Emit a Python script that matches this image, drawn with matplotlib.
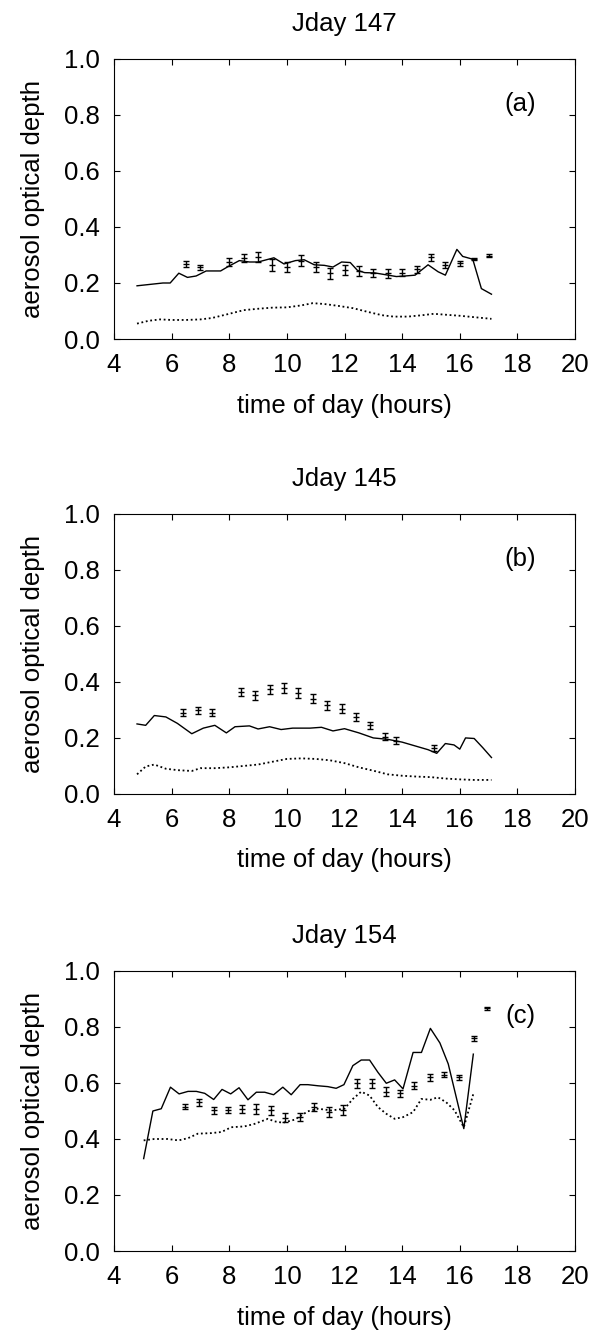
import matplotlib
matplotlib.use('Agg')
import matplotlib.pyplot as plt

plt.rcParams['font.family'] = ['Liberation Sans', 'DejaVu Sans']

# ---- panel (a): Jday 147 ----
a_line_t = [4.8, 5.25, 5.7, 5.95, 6.25, 6.55, 6.85, 7.2, 7.7, 7.95, 8.35, 8.7, 9.0, 9.55, 9.9,
            10.3, 10.6, 10.95, 11.3, 11.6, 11.9, 12.2, 12.45, 12.7, 13.05, 13.4, 13.8, 14.1,
            14.45, 14.9, 15.25, 15.5, 15.9, 16.1, 16.45, 16.75, 17.1]
a_line_v = [0.19, 0.195, 0.2, 0.2, 0.235, 0.22, 0.225, 0.243, 0.243, 0.258, 0.28, 0.275, 0.275,
            0.29, 0.268, 0.28, 0.283, 0.265, 0.263, 0.257, 0.275, 0.273, 0.245, 0.237, 0.236,
            0.23, 0.223, 0.225, 0.228, 0.265, 0.24, 0.228, 0.32, 0.295, 0.285, 0.18, 0.16]
a_dot_t = [4.8, 5.2, 5.6, 6.0, 6.5, 7.0, 7.4, 8.0, 8.5, 9.0, 9.5, 10.0, 10.5, 10.9, 11.3, 11.8,
           12.3, 12.8, 13.3, 13.7, 14.2, 14.7, 15.1, 15.6, 16.0, 16.5, 17.1]
a_dot_v = [0.055, 0.065, 0.07, 0.068, 0.068, 0.07, 0.075, 0.09, 0.103, 0.108, 0.112, 0.113,
           0.12, 0.128, 0.125, 0.118, 0.11, 0.097, 0.085, 0.08, 0.08, 0.085, 0.09, 0.086,
           0.083, 0.078, 0.072]
a_pt_t = [6.5, 7.0, 8.0, 8.5, 9.0, 9.5, 10.0, 10.5, 11.0, 11.5, 12.0, 12.5, 13.0, 13.5, 14.0,
          14.5, 15.0, 15.5, 16.0, 16.5, 17.0]
a_pt_v = [0.268, 0.256, 0.274, 0.29, 0.292, 0.264, 0.258, 0.28, 0.258, 0.234, 0.246, 0.243,
          0.236, 0.234, 0.237, 0.249, 0.292, 0.264, 0.27, 0.286, 0.297]
a_pt_e = [0.012, 0.01, 0.014, 0.015, 0.017, 0.02, 0.018, 0.02, 0.017, 0.018, 0.017, 0.017,
          0.015, 0.015, 0.013, 0.013, 0.012, 0.01, 0.009, 0.005, 0.005]

# ---- panel (b): Jday 145 ----
b_line_t = [4.8, 5.1, 5.4, 5.8, 6.2, 6.7, 7.1, 7.5, 7.9, 8.2, 8.7, 9.0, 9.4, 9.8, 10.2, 10.8,
            11.2, 11.6, 12.0, 12.5, 13.0, 13.5, 14.0, 14.5, 14.9, 15.2, 15.5, 15.8, 16.0,
            16.2, 16.5, 16.8, 17.1]
b_line_v = [0.25, 0.245, 0.28, 0.275, 0.252, 0.215, 0.235, 0.245, 0.218, 0.24, 0.243, 0.232,
            0.24, 0.23, 0.235, 0.235, 0.238, 0.225, 0.233, 0.218, 0.2, 0.195, 0.185, 0.17,
            0.158, 0.145, 0.18, 0.175, 0.16, 0.2, 0.198, 0.165, 0.13]
b_dot_t = [4.8, 5.1, 5.4, 5.8, 6.2, 6.7, 7.0, 7.5, 8.0, 8.5, 9.0, 9.5, 10.0, 10.5, 11.0, 11.5,
           12.0, 12.5, 13.0, 13.5, 14.0, 14.5, 15.0, 15.5, 16.0, 16.5, 17.1]
b_dot_v = [0.07, 0.098, 0.105, 0.09, 0.085, 0.082, 0.092, 0.092, 0.095, 0.1, 0.105, 0.115,
           0.125, 0.127, 0.125, 0.12, 0.11, 0.095, 0.083, 0.07, 0.065, 0.062, 0.06, 0.055,
           0.052, 0.05, 0.05]
b_pt_t = [6.4, 6.9, 7.4, 8.4, 8.9, 9.4, 9.9, 10.4, 10.9, 11.4, 11.9, 12.4, 12.9, 13.4, 13.8, 15.1]
b_pt_v = [0.29, 0.298, 0.29, 0.364, 0.352, 0.373, 0.379, 0.361, 0.34, 0.316, 0.305, 0.275,
          0.245, 0.205, 0.19, 0.165]
b_pt_e = [0.012, 0.012, 0.012, 0.015, 0.015, 0.015, 0.017, 0.017, 0.017, 0.017, 0.015, 0.015,
          0.013, 0.012, 0.012, 0.01]

# ---- panel (c): Jday 154 ----
c_line_t = [5.03, 5.35, 5.64, 5.96, 6.26, 6.57, 6.86, 7.15, 7.46, 7.75, 8.05, 8.34, 8.65, 8.94,
            9.23, 9.54, 9.86, 10.15, 10.46, 10.73, 11.08, 11.42, 11.71, 11.98, 12.29, 12.58,
            12.87, 13.16, 13.45, 13.74, 14.03, 14.38, 14.67, 14.98, 15.31, 15.6, 16.14, 16.47]
c_line_v = [0.33, 0.5, 0.508, 0.585, 0.561, 0.57, 0.57, 0.563, 0.541, 0.577, 0.561, 0.583,
            0.54, 0.567, 0.567, 0.558, 0.585, 0.558, 0.594, 0.594, 0.59, 0.587, 0.581, 0.594,
            0.662, 0.682, 0.682, 0.638, 0.599, 0.611, 0.579, 0.709, 0.709, 0.795, 0.743,
            0.668, 0.437, 0.703]
c_dot_t = [5.03, 5.4, 5.86, 6.24, 6.57, 6.91, 7.38, 7.73, 8.07, 8.53, 8.88, 9.34, 9.57, 9.86,
           10.27, 10.73, 11.08, 11.54, 12.0, 12.29, 12.58, 12.87, 13.16, 13.45, 13.74, 14.03,
           14.38, 14.67, 14.98, 15.24, 15.53, 15.82, 16.14, 16.47]
c_dot_v = [0.395, 0.4, 0.4, 0.395, 0.403, 0.419, 0.421, 0.425, 0.442, 0.445, 0.454, 0.472,
           0.463, 0.458, 0.469, 0.499, 0.508, 0.502, 0.508, 0.543, 0.569, 0.555, 0.514, 0.49,
           0.472, 0.478, 0.496, 0.543, 0.54, 0.549, 0.531, 0.502, 0.442, 0.561]
c_pt_t = [6.45, 6.96, 7.46, 7.96, 8.44, 8.94, 9.44, 9.95, 10.45, 10.93, 11.45, 11.95, 12.45,
          12.96, 13.45, 13.93, 14.42, 14.95, 15.45, 15.96, 16.48, 16.95]
c_pt_v = [0.516, 0.531, 0.502, 0.504, 0.508, 0.508, 0.502, 0.476, 0.478, 0.514, 0.496, 0.504,
          0.599, 0.599, 0.569, 0.563, 0.591, 0.62, 0.63, 0.62, 0.759, 0.867]
c_pt_e = [0.01, 0.012, 0.012, 0.012, 0.015, 0.017, 0.017, 0.017, 0.015, 0.015, 0.017, 0.017,
          0.017, 0.017, 0.017, 0.013, 0.012, 0.012, 0.01, 0.01, 0.008, 0.005]

panels = [
    ('Jday 147', '(a)', a_line_t, a_line_v, a_dot_t, a_dot_v, a_pt_t, a_pt_v, a_pt_e),
    ('Jday 145', '(b)', b_line_t, b_line_v, b_dot_t, b_dot_v, b_pt_t, b_pt_v, b_pt_e),
    ('Jday 154', '(c)', c_line_t, c_line_v, c_dot_t, c_dot_v, c_pt_t, c_pt_v, c_pt_e),
]

fig = plt.figure(figsize=(5.98, 13.31), dpi=100)
bottoms = [0.7453, 0.4035, 0.0601]
fs = 18.5

for (title, tag, lt, lv, dt, dv, pt, pv, pe), b in zip(panels, bottoms):
    ax = fig.add_axes([0.1906, b, 0.771, 0.2104])
    ax.plot(lt, lv, color='black', lw=1.0)
    ax.plot(dt, dv, color='black', lw=1.3, linestyle=(0, (1, 1.5)))
    ax.errorbar(pt, pv, yerr=pe, fmt='_', color='black', ms=4, mew=1,
                elinewidth=1, capsize=2.5, capthick=1)
    ax.set_xlim(4, 20)
    ax.set_ylim(0, 1)
    ax.set_xticks(range(4, 21, 2))
    ax.set_yticks([0.0, 0.2, 0.4, 0.6, 0.8, 1.0])
    ax.set_yticklabels(['0.0', '0.2', '0.4', '0.6', '0.8', '1.0'])
    ax.tick_params(direction='in', top=True, right=True, length=4, width=0.8,
                   labelsize=fs, pad=10)
    for s in ax.spines.values():
        s.set_linewidth(0.8)
    ax.set_title(title, fontsize=fs, pad=20)
    ax.set_xlabel('time of day (hours)', fontsize=fs, labelpad=12)
    ax.set_ylabel('aerosol optical depth', fontsize=fs, labelpad=14)
    ax.text(18.1, 0.84, tag, fontsize=fs, ha='center', va='center')

fig.savefig('out.png', dpi=100)
